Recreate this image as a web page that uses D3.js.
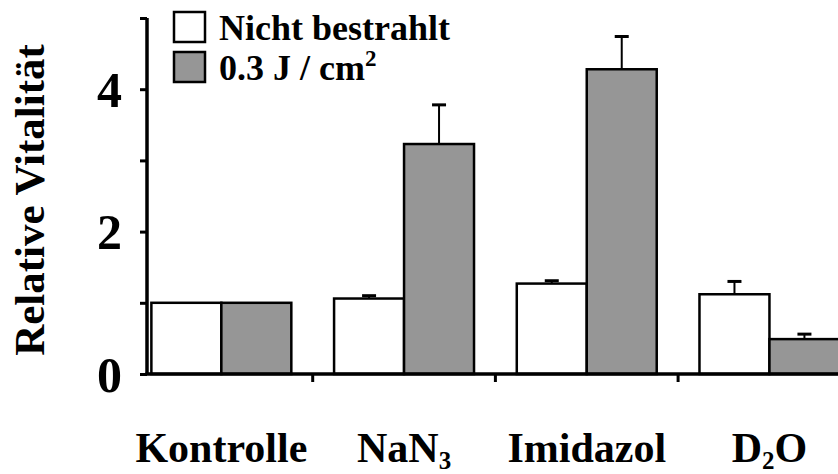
<!DOCTYPE html>
<html>
<head>
<meta charset="utf-8">
<script src="https://cdn.jsdelivr.net/npm/d3@7"></script>
<style>
  html, body { margin: 0; padding: 0; background: #fff; }
  svg { display: block; }
  svg text { font-family: 'Liberation Serif', 'Times New Roman', Times, 'DejaVu Serif', serif; font-weight: bold; }
</style>
</head>
<body>
<div id="chart"></div>
<script>
// ---- data ----
const categories = ['Kontrolle', 'NaN3', 'Imidazol', 'D2O'];
const series = ['Nicht bestrahlt', '0.3 J / cm2'];
const unirradiated = [1.0, 1.06, 1.27, 1.12];
const unirradiatedErr = [0, 0.04, 0.04, 0.18];
const irradiated = [1.0, 3.23, 4.28, 0.49];
const irradiatedErr = [0, 0.55, 0.46, 0.07];
const yTicks = [0, 1, 2, 3, 4, 5];
const yLabelTicks = [0, 2, 4];

const width = 838;
const height = 474;
const margin = { top: 18, right: 0, bottom: 100, left: 147 };
const grey = '#969696';
const serif = "'Liberation Serif', 'Times New Roman', Times, 'DejaVu Serif', serif";

const svg = d3.select('#chart')
  .append('svg')
  .attr('width', width)
  .attr('height', height);

const y = d3.scaleLinear()
  .domain([0, 5])
  .range([height - margin.bottom, margin.top]);

const step = 182.7;
const x0 = margin.left - 17;
const x = d3.scaleBand()
  .domain(categories)
  .range([x0, x0 + step * categories.length])
  .paddingInner(0.234)
  .paddingOuter(0.117);

const xs = d3.scaleBand()
  .domain(series)
  .range([0, x.bandwidth()]);

const rows = categories.map((c, i) => ([
  { cat: c, s: series[0], v: unirradiated[i], e: unirradiatedErr[i], fill: '#fff' },
  { cat: c, s: series[1], v: irradiated[i], e: irradiatedErr[i], fill: grey }
])).flat();

// bars
svg.append('g').selectAll('rect')
  .data(rows)
  .enter()
  .append('rect')
  .attr('x', d => x(d.cat) + xs(d.s))
  .attr('y', d => y(d.v))
  .attr('width', xs.bandwidth())
  .attr('height', d => y(0) - y(d.v))
  .attr('fill', d => d.fill)
  .attr('stroke', '#000')
  .attr('stroke-width', 2.5);

// error bars (upper only)
const errs = svg.append('g').selectAll('g')
  .data(rows.filter(d => d.e > 0))
  .enter()
  .append('g')
  .attr('transform', d => `translate(${x(d.cat) + xs(d.s) + xs.bandwidth() / 2},0)`);
errs.append('line')
  .attr('y1', d => y(d.v))
  .attr('y2', d => y(d.v + d.e))
  .attr('stroke', '#000')
  .attr('stroke-width', 2);
errs.append('line')
  .attr('x1', -7).attr('x2', 7)
  .attr('y1', d => y(d.v + d.e))
  .attr('y2', d => y(d.v + d.e))
  .attr('stroke', '#000')
  .attr('stroke-width', 3);

// y axis
svg.append('g')
  .attr('transform', `translate(${margin.left},0)`)
  .call(d3.axisLeft(y).tickValues(yTicks).tickSize(7).tickPadding(18)
    .tickFormat(d => yLabelTicks.includes(d) ? d : ''))
  .attr('font-family', serif)
  .call(g => g.select('.domain').attr('stroke-width', 3.5).attr('d', `M0,${y(5)}V${y(0)}`))
  .call(g => g.selectAll('.tick line').attr('stroke-width', 3))
  .call(g => g.selectAll('.tick text')
    .attr('font-family', serif)
    .attr('font-weight', 'bold')
    .attr('font-size', 50)
    .attr('fill', '#000')
    .attr('dy', '0.34em'));

// x axis line + ticks between groups
const xAxis = svg.append('g').attr('transform', `translate(0,${y(0)})`);
xAxis.append('line')
  .attr('x1', margin.left - 1.5).attr('x2', width)
  .attr('stroke', '#000').attr('stroke-width', 3.5);
xAxis.selectAll('.sep')
  .data(categories.slice(1))
  .enter()
  .append('line')
  .attr('x1', d => x(d) - x.step() * x.paddingInner() / 2)
  .attr('x2', d => x(d) - x.step() * x.paddingInner() / 2)
  .attr('y1', 0).attr('y2', 8)
  .attr('stroke', '#000').attr('stroke-width', 3);

// category labels with subscripts
const subs = { NaN3: ['NaN', '3'], D2O: ['D', '2', 'O'] };
const catLabels = svg.append('g').selectAll('text')
  .data(categories)
  .enter()
  .append('text')
  .attr('x', d => x(d) + x.bandwidth() / 2)
  .attr('y', 462)
  .attr('text-anchor', 'middle')
  .attr('font-family', serif)
  .attr('font-size', 42)
  .attr('fill', '#000');
catLabels.each(function (d) {
  const t = d3.select(this);
  if (!subs[d]) { t.text(d); return; }
  subs[d].forEach((part, i) => {
    const isSub = i === 1;
    t.append('tspan')
      .attr('font-size', isSub ? 25 : 42)
      .attr('dy', isSub ? 7 : (i === 2 ? -7 : 0))
      .text(part);
  });
});

// y axis title
svg.append('text')
  .attr('transform', `translate(44,200) rotate(-90)`)
  .attr('text-anchor', 'middle')
  .attr('font-family', serif)
  .attr('font-size', 43)
  .attr('fill', '#000')
  .text('Relative Vitalität');

// legend
const legend = svg.append('g').attr('transform', 'translate(174,12)');
const legendItems = legend.selectAll('g')
  .data(series)
  .enter()
  .append('g')
  .attr('transform', (d, i) => `translate(0,${i * 40})`);
legendItems.append('rect')
  .attr('width', 31).attr('height', 30)
  .attr('fill', (d, i) => i === 0 ? '#fff' : grey)
  .attr('stroke', '#000').attr('stroke-width', 2.5);
legendItems.append('text')
  .attr('x', 45)
  .attr('y', 28)
  .attr('font-family', serif)
  .attr('font-size', 36)
  .attr('fill', '#000')
  .each(function (d) {
    const t = d3.select(this);
    if (d.endsWith('cm2')) {
      t.append('tspan').text(d.slice(0, -1));
      t.append('tspan').attr('font-size', 23).attr('dy', -14).text('2');
    } else {
      t.text(d);
    }
  });
</script>
</body>
</html>
